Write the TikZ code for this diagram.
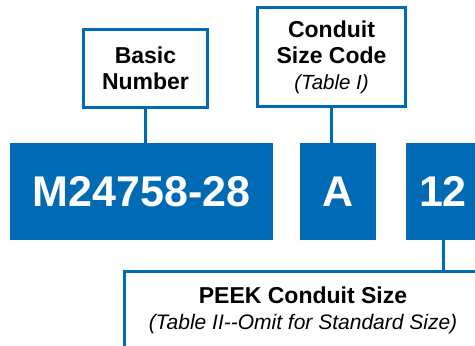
\documentclass[tikz,border=0pt]{standalone}
\usepackage{fontspec}
\setmainfont{Liberation Sans}
\definecolor{milblue}{HTML}{006AB5}
\begin{document}
\begin{tikzpicture}[x=1pt,y=-1pt,
  labelbox/.style={draw=milblue, line width=3pt, fill=white, inner sep=0pt, align=center,
    font=\fontsize{23}{26}\selectfont\bfseries},
  codebox/.style={fill=milblue, draw=none, inner sep=0pt, text=white,
    font=\fontsize{43}{46}\selectfont\bfseries},
  link/.style={draw=milblue, line width=3pt}]
\useasboundingbox (0,0) rectangle (475,346);
\begin{scope}
\clip (0,0) rectangle (475,346);
% code blocks
\node[codebox, minimum width=263pt, minimum height=97pt] (M) at (141.5,191.5) {M24758-28};
\node[codebox, minimum width=76pt, minimum height=97pt] (A) at (338,191.5) {A};
\node[codebox, minimum width=74pt, minimum height=97pt] (N) at (443,191.5) {12};
% label boxes
\node[labelbox, minimum width=124pt, minimum height=78pt] (basic) at (145.5,68.5) {Basic\\Number};
\node[labelbox, minimum width=148pt, minimum height=99pt] (conduit) at (331.5,57)
  {Conduit\\Size Code\\{\fontsize{20.5}{26}\selectfont\mdseries\itshape (Table I)}};
\node[labelbox, minimum width=357pt, minimum height=78.5pt] (peek) at (303,310.75)
  {PEEK Conduit Size\\{\fontsize{21}{26}\selectfont\mdseries\itshape (Table II-{}-Omit for Standard Size)}};
% connectors
\draw[link] (basic.south) -- (basic.south |- M.north);
\draw[link] (conduit.south) -- (conduit.south |- A.north);
\draw[link] (N.south) -- (N.south |- peek.north);
\end{scope}
\end{tikzpicture}
\end{document}
